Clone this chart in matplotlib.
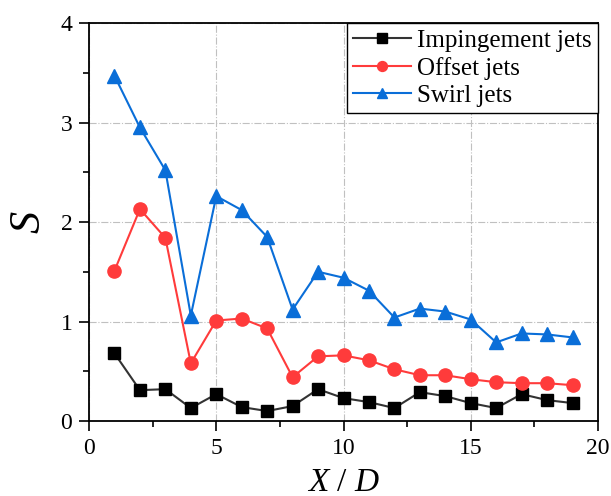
import matplotlib.pyplot as plt
from matplotlib.ticker import MultipleLocator

x_d = list(range(1, 20))
impingement = [0.68, 0.31, 0.32, 0.13, 0.27, 0.14, 0.10, 0.15, 0.32, 0.23,
               0.19, 0.13, 0.29, 0.25, 0.18, 0.13, 0.27, 0.21, 0.18]
offset = [1.51, 2.13, 1.84, 0.58, 1.01, 1.03, 0.93, 0.44, 0.65, 0.66,
          0.61, 0.52, 0.46, 0.46, 0.42, 0.39, 0.38, 0.38, 0.36]
swirl = [3.47, 2.95, 2.52, 1.06, 2.26, 2.12, 1.85, 1.12, 1.50, 1.44,
         1.31, 1.04, 1.13, 1.10, 1.02, 0.79, 0.88, 0.87, 0.84]
labels = ['Impingement jets', 'Offset jets', 'Swirl jets']

plt.rcParams['font.family'] = 'Liberation Serif'
plt.rcParams['mathtext.fontset'] = 'custom'
plt.rcParams['mathtext.it'] = 'Liberation Serif:italic'
plt.rcParams['mathtext.rm'] = 'Liberation Serif'

fig = plt.figure(figsize=(6.11, 4.96), dpi=100)
ax = fig.add_axes([0.1457, 0.1512, 0.833, 0.8024])

ax.plot(x_d, impingement, color='#333333', lw=1.5, marker='s', ms=9,
        mfc='black', mec='black', label=labels[0])
ax.plot(x_d, offset, color='#ff3b3b', lw=1.5, marker='o', ms=9.5,
        mfc='#ff3b3b', mec='#ff3b3b', label=labels[1])
ax.plot(x_d, swirl, color='#0a6ed8', lw=1.5, marker='^', ms=10.5,
        mfc='#0a6ed8', mec='#0a6ed8', label=labels[2])

ax.set_xlim(0, 20)
ax.set_ylim(0, 4)
ax.xaxis.set_major_locator(MultipleLocator(5))
ax.xaxis.set_minor_locator(MultipleLocator(2.5))
ax.yaxis.set_major_locator(MultipleLocator(1))
ax.yaxis.set_minor_locator(MultipleLocator(0.5))
ax.tick_params(which='both', direction='out', top=False, right=False,
               labelsize=17, width=1.2)
ax.tick_params(which='major', length=7, pad=5)
ax.tick_params(which='minor', length=4)
for s in ax.spines.values():
    s.set_linewidth(1.3)

ax.grid(True, which='major', color='#c0c0c0', ls='-.', lw=0.8)
ax.set_axisbelow(True)

ax.set_xlabel('$X$ / $D$', fontsize=24, labelpad=6)
ax.set_ylabel('$S$', fontsize=32, labelpad=8)

leg = ax.legend(loc='upper right', fontsize=18, borderaxespad=0,
                fancybox=False, edgecolor='black', framealpha=1,
                handlelength=2.3, handletextpad=0.25, labelspacing=0.2,
                borderpad=0.25, markerscale=0.75)
leg.get_frame().set_linewidth(1.0)

fig.savefig('out.png', dpi=100)
